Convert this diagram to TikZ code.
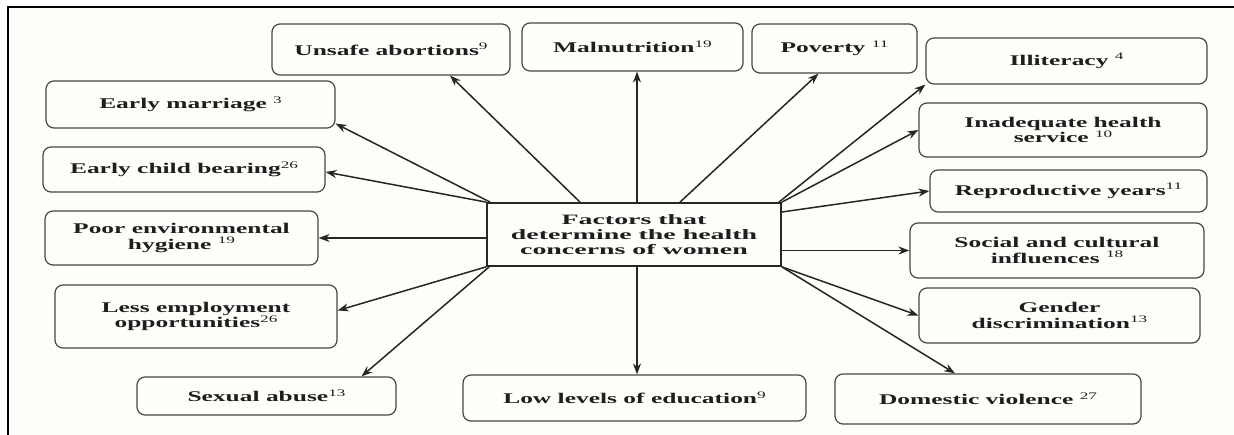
\documentclass[tikz,border=0pt]{standalone}
\usepackage{fontspec}
\newfontfamily\boxfont{Liberation Serif}[FakeStretch=1.72]
\newfontfamily\midfont{Liberation Serif}[FakeStretch=1.95]
\usetikzlibrary{arrows.meta}
\definecolor{boxline}{RGB}{70,70,70}
\definecolor{textc}{RGB}{30,30,30}
\definecolor{bgc}{RGB}{253,253,250}
\newcommand\sups[1]{\raisebox{5.5pt}{\fontsize{10}{10}\selectfont\mdseries #1}}
\begin{document}
\begin{tikzpicture}[x=1pt,y=-1pt,
  fbox/.style={draw=boxline, line width=1.2pt, rounded corners=8pt, fill=bgc,
    inner sep=0pt, align=center, text=textc,
    font=\boxfont\bfseries\fontsize{14.8}{15.5}\selectfont},
  midbox/.style={draw=black!85, line width=1.8pt, fill=bgc, inner sep=0pt,
    align=center, text=textc,
    font=\midfont\bfseries\fontsize{14.3}{14.8}\selectfont},
  conn/.style={draw=black!85, line width=1.5pt, -{Stealth[length=11pt,width=8pt]}},
  framel/.style={draw=black, line width=1.2pt}]
\useasboundingbox (0,0) rectangle (1234,435);
\fill[bgc] (8,7) rectangle (1234,435);
\draw[framel] (8,435) -- (8,7) -- (1234,7);

\node[midbox, minimum width=294pt, minimum height=63pt] (c) at (634,234.5)
  {Factors that\\determine the health\\concerns of women};

\node[fbox, minimum width=238pt, minimum height=51pt] (ua) at (391,49.5) {Unsafe abortions\sups{9}};
\node[fbox, minimum width=221pt, minimum height=48pt] (mal) at (632.5,47) {Malnutrition\sups{19}};
\node[fbox, minimum width=165pt, minimum height=49pt] (pov) at (834.5,48.5) {Poverty \sups{11}};
\node[fbox, minimum width=281pt, minimum height=46pt] (il) at (1066.5,61) {Illiteracy \sups{4}};
\node[fbox, minimum width=288pt, minimum height=54pt] (inad) at (1063,130) {Inadequate health\\service \sups{10}};
\node[fbox, minimum width=277pt, minimum height=42pt] (rep) at (1068.5,191) {Reproductive years\sups{11}};
\node[fbox, minimum width=294pt, minimum height=55pt] (soc) at (1057,250.5) {Social and cultural\\influences \sups{18}};
\node[fbox, minimum width=281pt, minimum height=55pt] (gen) at (1059.5,315.5) {Gender\\discrimination\sups{13}};
\node[fbox, minimum width=306pt, minimum height=50pt] (dom) at (988,399) {Domestic violence \sups{27}};
\node[fbox, minimum width=343pt, minimum height=46pt] (le) at (634.5,398) {Low levels of education\sups{9}};
\node[fbox, minimum width=259pt, minimum height=38pt] (sa) at (266.5,396) {Sexual abuse\sups{13}};
\node[fbox, minimum width=282pt, minimum height=63pt] (lem) at (196,316.5) {Less employment\\opportunities\sups{26}};
\node[fbox, minimum width=273pt, minimum height=54pt] (pe) at (181.5,238) {Poor environmental\\hygiene \sups{19}};
\node[fbox, minimum width=282pt, minimum height=45pt] (ec) at (184,169.5) {Early child bearing\sups{26}};
\node[fbox, minimum width=289pt, minimum height=47pt] (em) at (190.5,104.5) {Early marriage \sups{3}};

\draw[conn] ([xshift=4pt]c.north west) -- ([yshift=5pt]em.south east);
\draw[conn] (c.north west) -- ([yshift=-2.5pt]ec.east);
\draw[conn] ([xshift=-54pt]c.north) -- ([xshift=59pt]ua.south);
\draw[conn] ([xshift=3pt]c.north) -- ([xshift=3pt]c.north |- mal.south);
\draw[conn] ([xshift=46pt]c.north) -- ([xshift=-16pt]pov.south);
\draw[conn] ([xshift=-3pt]c.north east) -- (il.south west);
\draw[conn] (c.north east) -- (inad.west);
\draw[conn] ([yshift=22.5pt]c.east) -- (rep.west);
\draw[conn] (soc.west -| c.east) -- (soc.west);
\draw[conn] (c.south east) -- (gen.west);
\draw[conn] (c.south east) -- ([xshift=-33pt]dom.north);
\draw[conn] ([xshift=3pt]c.south) -- ([xshift=3pt]c.south |- le.north);
\draw[conn] ([xshift=3pt]c.south west) -- ([xshift=95pt]sa.north);
\draw[conn] (c.south west) -- ([yshift=6pt]lem.east);
\draw[conn] (pe.east -| c.west) -- (pe.east);
\end{tikzpicture}
\end{document}
